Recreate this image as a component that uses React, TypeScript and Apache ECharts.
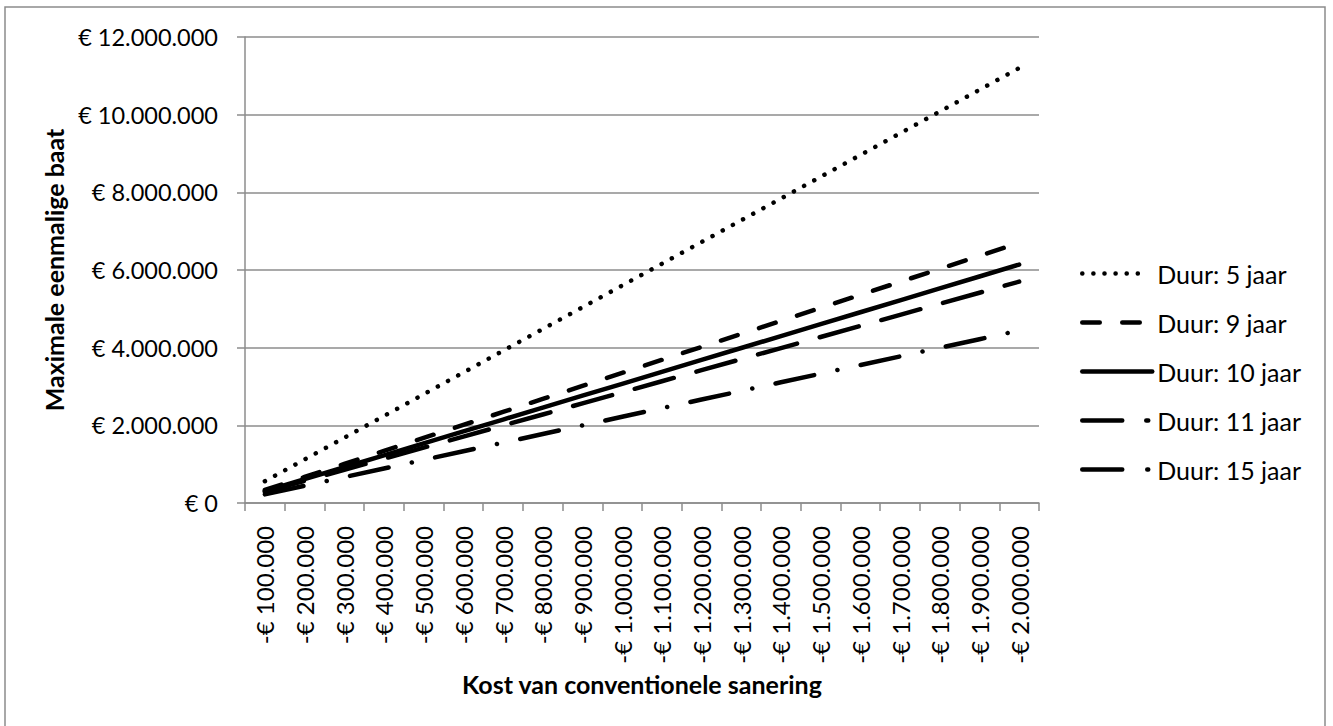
import React, { useEffect, useRef } from "react";
import * as echarts from "echarts";

// Kost van conventionele sanering (categorieën op de x-as)
const categories: string[] = [
  "-€ 100.000", "-€ 200.000", "-€ 300.000", "-€ 400.000", "-€ 500.000",
  "-€ 600.000", "-€ 700.000", "-€ 800.000", "-€ 900.000", "-€ 1.000.000",
  "-€ 1.100.000", "-€ 1.200.000", "-€ 1.300.000", "-€ 1.400.000", "-€ 1.500.000",
  "-€ 1.600.000", "-€ 1.700.000", "-€ 1.800.000", "-€ 1.900.000", "-€ 2.000.000",
];

// Maximale eenmalige baat per looptijd (euro)
const duur5: number[] = [
  560000, 1120000, 1680000, 2240000, 2800000, 3360000, 3920000, 4480000, 5040000, 5600000,
  6160000, 6720000, 7280000, 7840000, 8400000, 8960000, 9520000, 10080000, 10640000, 11200000,
];
const duur9: number[] = [
  335000, 670000, 1005000, 1340000, 1675000, 2010000, 2345000, 2680000, 3015000, 3350000,
  3685000, 4020000, 4355000, 4690000, 5025000, 5360000, 5695000, 6030000, 6365000, 6700000,
];
const duur10: number[] = [
  307000, 614000, 921000, 1228000, 1535000, 1842000, 2149000, 2456000, 2763000, 3070000,
  3377000, 3684000, 3991000, 4298000, 4605000, 4912000, 5219000, 5526000, 5833000, 6140000,
];
const duur11: number[] = [
  285000, 570000, 855000, 1140000, 1425000, 1710000, 1995000, 2280000, 2565000, 2850000,
  3135000, 3420000, 3705000, 3990000, 4275000, 4560000, 4845000, 5130000, 5415000, 5700000,
];
const duur15: number[] = [
  222000, 444000, 666000, 888000, 1110000, 1332000, 1554000, 1776000, 1998000, 2220000,
  2442000, 2664000, 2886000, 3108000, 3330000, 3552000, 3774000, 3996000, 4218000, 4440000,
];

const seriesNames: string[] = [
  "Duur: 5 jaar", "Duur: 9 jaar", "Duur: 10 jaar", "Duur: 11 jaar", "Duur: 15 jaar",
];

const FONT = "Lato, 'Open Sans', sans-serif";
const LINE_W = 4.5;

function euro(v: number): string {
  const s = Math.round(v).toString().replace(/\B(?=(\d{3})+(?!\d))/g, ".");
  return "€ " + s;
}

export default function App() {
  const ref = useRef<HTMLDivElement>(null);

  useEffect(() => {
    if (!ref.current) return;
    const chart = echarts.init(ref.current, undefined, { renderer: "svg" });

    // dash patterns for the plotted lines
    const dashes: any[] = [
      [0.1, 11.5],
      [17.5, 22.5],
      "solid",
      [40.5, 23.5],
      [39.5, 23.75, 0.1, 23.75],
    ];
    // dash patterns for the legend samples
    const legendDashes: any[] = [
      [0.1, 11, 0.1, 11, 0.1, 11, 0.1, 11, 0.1, 11, 0.1, 40],
      [17.5, 22.5],
      "solid",
      [40, 24, 2, 30],
      [40, 25, 1, 30],
    ];
    const values = [duur5, duur9, duur10, duur11, duur15];

    const series = seriesNames.map((name, i) => ({
      name,
      type: "line",
      data: values[i],
      symbol: "none",
      showSymbol: false,
      lineStyle: {
        color: "#000",
        width: LINE_W,
        type: dashes[i],
        cap: "round",
      },
      itemStyle: { color: "#000" },
      z: 10 - i,
    }));

    const legendData = seriesNames.map((name, i) => ({
      name,
      lineStyle: { type: legendDashes[i], width: LINE_W, cap: "round" },
    }));

    chart.setOption({
      animation: false,
      backgroundColor: "#fff",
      textStyle: { fontFamily: FONT, color: "#000" },
      graphic: [
        {
          type: "rect",
          shape: { x: 5, y: 7, width: 1320, height: 730 },
          style: { fill: "none", stroke: "#8c8c8c", lineWidth: 1.5 },
          silent: true,
        },
      ],
      grid: { left: 245, right: 294, top: 37, bottom: 223, containLabel: false },
      legend: {
        orient: "vertical",
        left: 1080,
        top: 261,
        padding: 0,
        itemWidth: 70,
        itemHeight: 14,
        itemGap: 24,
        data: legendData,
        itemStyle: { opacity: 0 },
        lineStyle: { width: LINE_W, cap: "round" },
        textStyle: { fontFamily: FONT, fontSize: 25, color: "#000", lineHeight: 24 },
        selectedMode: false,
      },
      xAxis: {
        type: "category",
        data: categories,
        boundaryGap: true,
        name: "Kost van conventionele sanering",
        nameLocation: "middle",
        nameGap: 165,
        nameTextStyle: { fontFamily: FONT, fontSize: 25, fontWeight: "bold", color: "#000" },
        axisLine: { lineStyle: { color: "#8c8c8c", width: 1.5 } },
        axisTick: { show: true, interval: 0, length: 8, lineStyle: { color: "#8c8c8c", width: 1.5 } },
        axisLabel: {
          interval: 0,
          rotate: 90,
          margin: 23,
          fontFamily: FONT,
          fontSize: 24,
          color: "#000",
        },
        splitLine: { show: false },
      },
      yAxis: {
        type: "value",
        min: 0,
        max: 12000000,
        interval: 2000000,
        name: "Maximale eenmalige baat",
        nameLocation: "middle",
        nameGap: 191,
        nameRotate: 90,
        nameTextStyle: {
          fontFamily: FONT,
          fontSize: 25,
          fontWeight: "bold",
          color: "#000",
          verticalAlign: "middle",
        },
        axisLine: { show: true, lineStyle: { color: "#8c8c8c", width: 1.5 } },
        axisTick: { show: true, length: 8, lineStyle: { color: "#8c8c8c", width: 1.5 } },
        axisLabel: {
          margin: 27,
          fontFamily: FONT,
          fontSize: 23.5,
          color: "#000",
          formatter: (v: number) => euro(v),
        },
        splitLine: { show: true, lineStyle: { color: "#8c8c8c", width: 1.5 } },
      },
      series,
    });

    return () => chart.dispose();
  }, []);

  return (
    <div
      ref={ref}
      style={{ position: "fixed", left: 0, top: 0, width: 1333, height: 726 }}
    />
  );
}
